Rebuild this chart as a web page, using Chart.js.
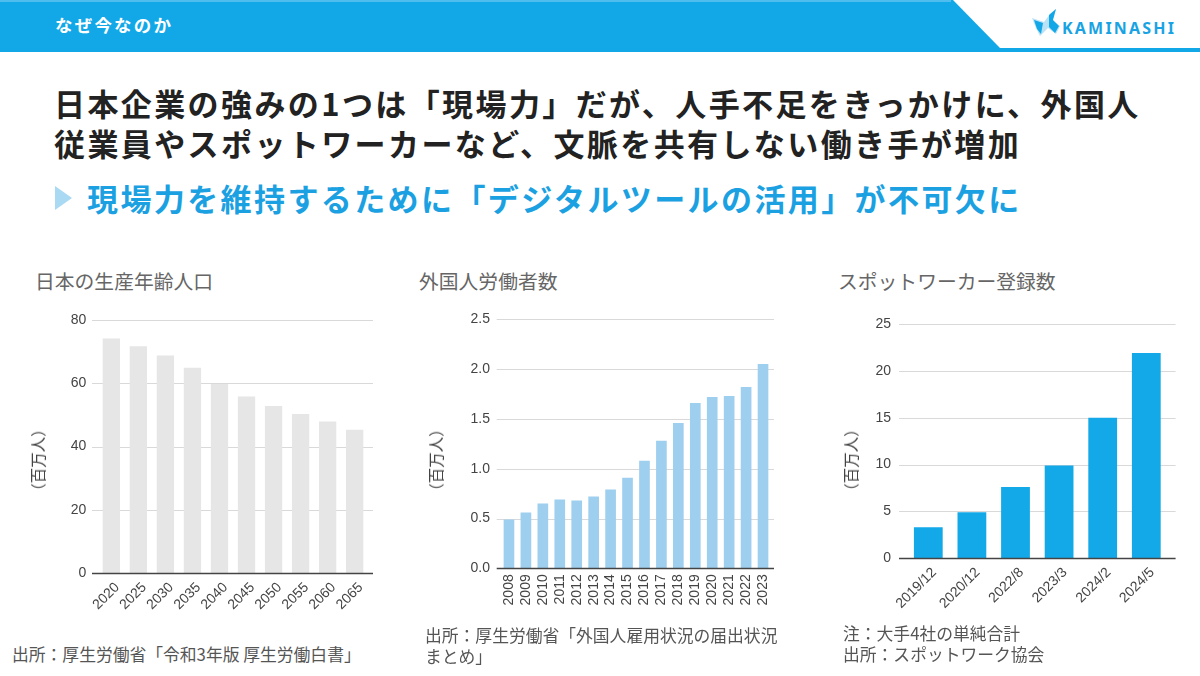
<!DOCTYPE html>
<html><head><meta charset="utf-8">
<script src="https://cdn.jsdelivr.net/npm/chart.js@4.4.1/dist/chart.umd.min.js"></script>
<style>
html,body{margin:0;padding:0;background:#fff;}
body{width:1200px;height:676px;position:relative;overflow:hidden;font-family:"Noto Sans CJK JP","Noto Sans",sans-serif;}
.abs{position:absolute;white-space:nowrap;}
.head{left:55px;top:13px;line-height:24px;font-size:17.5px;font-weight:bold;color:#fff;letter-spacing:2.2px;}
.title{left:54px;top:83px;line-height:40px;font-size:31px;font-weight:bold;color:#222;letter-spacing:2.4px;}
.sub{left:87px;top:181px;line-height:34px;font-size:31px;font-weight:bold;color:#1ba1e2;letter-spacing:2.4px;}
.ctitle{top:268px;line-height:26px;font-size:19.8px;color:#666;}
.foot{font-size:16.8px;line-height:21px;color:#555;}
.ytitle{font-size:15.5px;color:#444;transform:translate(-50%,-50%) rotate(-90deg);line-height:18px;}
.cbox{position:absolute;}
.logo{left:1062px;top:16px;line-height:24px;font-family:"Noto Sans",sans-serif;font-weight:bold;font-size:16px;letter-spacing:2.2px;color:#1aa3e3;}
</style></head><body>
<svg class="abs" style="left:0;top:0" width="1200" height="56">
  <polygon points="0,0 953,0 1000,48 0,48" fill="#12a8e8"/>
  <rect x="0" y="0" width="951" height="2" fill="#4fbdee"/>
  <rect x="0" y="48" width="1200" height="4" fill="#12a8e8"/>
  <polygon points="1032,18 1044,22 1050,14 1056,9 1052,20 1060,26 1056,34 1048,28 1040,36 1036,28" fill="#b9e2f6"/>
  <polygon points="1034,20 1043,23 1041,34 1037,29" fill="#12a8e8"/>
  <polygon points="1049,15 1056,9 1053,20 1059,26 1055,33 1049,27" fill="#12a8e8"/>
</svg>
<div class="abs head">なぜ今なのか</div>
<div class="abs logo">KAMINASHI</div>
<div class="abs title">日本企業の強みの1つは「現場力」だが、人手不足をきっかけに、外国人<br>従業員やスポットワーカーなど、文脈を共有しない働き手が増加</div>
<svg class="abs" style="left:55px;top:186px" width="20" height="26"><polygon points="0,0 17,12 0,24" fill="#a9d9f3"/></svg>
<div class="abs sub">現場力を維持するために「デジタルツールの活用」が不可欠に</div>

<div class="abs ctitle" style="left:35px">日本の生産年齢人口</div>
<div class="abs ctitle" style="left:419px">外国人労働者数</div>
<div class="abs ctitle" style="left:838px">スポットワーカー登録数</div>

<div class="cbox" style="left:20px;top:300px;width:360px;height:330px"><canvas id="c1"></canvas></div>
<div class="cbox" style="left:410px;top:300px;width:380px;height:330px"><canvas id="c2"></canvas></div>
<div class="cbox" style="left:820px;top:300px;width:380px;height:330px"><canvas id="c3"></canvas></div>

<div class="abs ytitle" style="left:37px;top:460px">（百万人）</div>
<div class="abs ytitle" style="left:435px;top:460px">（百万人）</div>
<div class="abs ytitle" style="left:850px;top:460px">（百万人）</div>

<div class="abs foot" style="left:12px;top:644px">出所：厚生労働省「令和3年版 厚生労働白書」</div>
<div class="abs foot" style="left:425px;top:625px">出所：厚生労働省「外国人雇用状況の届出状況<br>まとめ」</div>
<div class="abs foot" style="left:843px;top:623px">注：大手4社の単純合計<br>出所：スポットワーク協会</div>

<script>
// ---- data ----
const popYears = ['2020','2025','2030','2035','2040','2045','2050','2055','2060','2065'];
const popValues = [74.1, 71.7, 68.8, 64.9, 59.8, 55.8, 52.8, 50.3, 47.9, 45.3];
const popTicks = [0, 20, 40, 60, 80];

const fwYears = ['2008','2009','2010','2011','2012','2013','2014','2015','2016','2017','2018','2019','2020','2021','2022','2023'];
const fwValues = [0.49, 0.56, 0.65, 0.69, 0.68, 0.72, 0.79, 0.91, 1.08, 1.28, 1.46, 1.66, 1.72, 1.73, 1.82, 2.05];
const fwTicks = [0, 0.5, 1.0, 1.5, 2.0, 2.5];

const spotDates = ['2019/12','2020/12','2022/8','2023/3','2024/2','2024/5'];
const spotValues = [3.3, 4.9, 7.6, 9.9, 15.0, 21.9];
const spotTicks = [0, 5, 10, 15, 20, 25];

// ---- helpers ----
const gridPlugin = {
  id: 'extGrid',
  beforeDatasetsDraw(chart, args, o) {
    const {ctx, chartArea: a, scales: {y}} = chart;
    ctx.save();
    ctx.strokeStyle = '#d9d9d9';
    ctx.lineWidth = 1;
    y.ticks.forEach(t => {
      if (t.value === 0) return;
      const py = Math.round(y.getPixelForValue(t.value)) + 0.5;
      ctx.beginPath(); ctx.moveTo(a.left - o.extL, py); ctx.lineTo(a.right + o.extR, py); ctx.stroke();
    });
    ctx.restore();
  },
  afterDatasetsDraw(chart, args, o) {
    const {ctx, chartArea: a, scales: {y}} = chart;
    const py = Math.round(y.getPixelForValue(0)) + 0.5;
    ctx.save();
    ctx.strokeStyle = '#444';
    ctx.lineWidth = 1.3;
    ctx.beginPath(); ctx.moveTo(a.left - o.extL, py); ctx.lineTo(a.right + o.extR, py); ctx.stroke();
    ctx.restore();
  }
};

function makeChart(id, labels, values, ticks, color, cfg) {
  const tickFont = {family: '"Liberation Sans", Arial, sans-serif', size: 14};
  return new Chart(document.getElementById(id), {
    type: 'bar',
    data: {labels: labels, datasets: [{data: values, backgroundColor: color, borderWidth: 0,
      categoryPercentage: 1.0, barPercentage: cfg.barPct}]},
    options: {
      responsive: true, maintainAspectRatio: false, animation: false, devicePixelRatio: 1,
      layout: {padding: {top: cfg.padTop, right: cfg.padRight, left: 0, bottom: 0}},
      plugins: {legend: {display: false}, tooltip: {enabled: false}, extGrid: {extL: cfg.extL, extR: cfg.extR}},
      scales: {
        x: {
          grid: {display: false, drawTicks: false}, border: {display: false},
          ticks: {autoSkip: false, minRotation: cfg.rot, maxRotation: cfg.rot, color: '#444', font: tickFont,
                  padding: cfg.xPad, labelOffset: cfg.labelOffset},
          afterFit: s => { s.height = cfg.xHeight; }
        },
        y: {
          min: ticks[0], max: ticks[ticks.length - 1],
          afterBuildTicks: s => { s.ticks = ticks.map(v => ({value: v})); },
          grid: {display: false, drawTicks: false}, border: {display: false},
          ticks: {color: '#444', font: tickFont, padding: cfg.yPad,
                  callback: v => cfg.fmt ? cfg.fmt(v) : String(v)},
          afterFit: s => { s.width = cfg.yWidth; }
        }
      }
    },
    plugins: [gridPlugin]
  });
}

makeChart('c1', popYears, popValues, popTicks, '#e6e6e6',
  {barPct: 0.64, padTop: 14, padRight: 11.8, xHeight: 56.7, yWidth: 77.8, yPad: 11.5,
   rot: 45, xPad: 6, labelOffset: 6, extL: 5.8, extR: 4.8});
makeChart('c2', fwYears, fwValues, fwTicks, '#9ecfee',
  {barPct: 0.63, padTop: 19.3, padRight: 18.5, xHeight: 61.7, yWidth: 90.5, yPad: 10.5,
   rot: 90, xPad: 6, labelOffset: 0, extL: 3.8, extR: 2.5, fmt: v => v.toFixed(1)});
makeChart('c3', spotDates, spotValues, spotTicks, '#13a8e8',
  {barPct: 0.66, padTop: 19.3, padRight: 31.9, xHeight: 71.7, yWidth: 86.5, yPad: 15.5,
   rot: 45, xPad: 6, labelOffset: 6, extL: 7.5, extR: 7.5});
</script>
</body></html>
